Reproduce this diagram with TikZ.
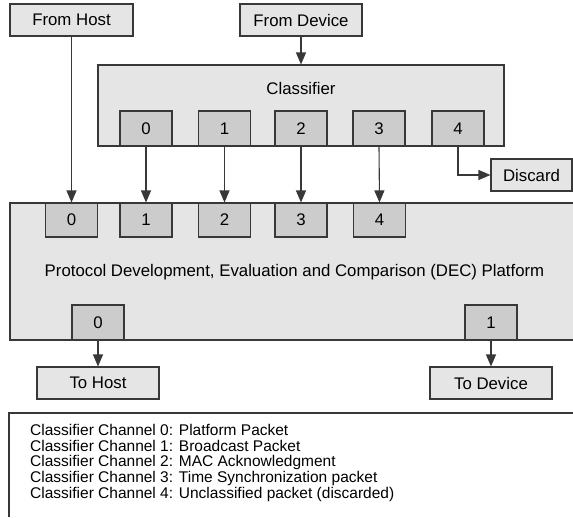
\documentclass[tikz,border=0pt]{standalone}
\usepackage{fontspec}
\setmainfont{Liberation Sans}
\usetikzlibrary{arrows.meta}
\definecolor{boxfill}{gray}{0.90}
\definecolor{portfill}{gray}{0.80}
\definecolor{edge}{gray}{0.22}
\tikzset{
  boxfont/.style={font=\fontsize{16.8}{18}\selectfont},
  bigbox/.style={draw=edge, fill=boxfill, line width=1.1pt, inner sep=0pt,
    minimum width=#1, minimum height=32pt, boxfont},
  port/.style={draw=edge, fill=portfill, line width=1.1pt, inner sep=0pt,
    minimum width=52pt, minimum height=35pt, boxfont},
  txt/.style={inner sep=0pt, boxfont},
  legend/.style={inner sep=0pt, anchor=west, font=\fontsize{15.5}{17}\selectfont},
  flow/.style={draw=edge, line width=1.1pt, -{Triangle[length=12pt,width=10pt]}}
}
\begin{document}
\begin{tikzpicture}[x=1pt,y=-1pt]
\useasboundingbox (0,0) rectangle (573,517);

% sources
\node[bigbox=123pt] (fromhost) at (71.5,20) {From Host};
\node[bigbox=122pt] (fromdev) at (301,20) {From Device};

% classifier with its five output channels
\node[draw=edge, fill=boxfill, line width=1.1pt, minimum width=406pt,
      minimum height=81pt, inner sep=0pt] (cls) at (301,105.5) {};
\node[txt] (clsname) at (301,88) {Classifier};
\foreach \i/\x in {0/146,1/224.5,2/301,3/379,4/458}
  \node[port] (c\i) at (\x,128.5) {\i};

\node[bigbox=81pt] (discard) at (531.5,175) {Discard};

% platform body (runs off the right edge)
\fill[boxfill] (10,203) rectangle (573,340);
\draw[edge, line width=1.1pt] (573,203) -- (10,203) -- (10,340) -- (573,340);
\node[txt] (platname) at (294.5,272)
  {Protocol Development, Evaluation and Comparison (DEC) Platform};
\foreach \i/\x in {0/71.5,1/146,2/224.5,3/301,4/379.5}
  \node[port, minimum height=34pt] (p\i) at (\x,220) {\i};
\node[port] (o0) at (98,322.5) {0};
\node[port] (o1) at (491,322.5) {1};

% sinks
\node[bigbox=122pt] (tohost) at (98,383) {To Host};
\node[bigbox=122pt] (todev) at (491,383) {To Device};

% connectors
\draw[flow] (fromhost.south) -- (p0.north);
\draw[flow] (fromdev.south) -- (cls.north);
\draw[flow] (c0.south) -- (p1.north);
\draw[flow] (c1.south) -- (p2.north);
\draw[flow] (c2.south) -- (p3.north);
\draw[flow] (c3.south) -- (p4.north);
\draw[flow] (c4.south) |- (discard.west);
\draw[flow] (o0.south) -- (tohost.north);
\draw[flow] (o1.south) -- (todev.north);

% channel legend (open on the right and bottom)
\draw[edge, line width=1.1pt] (573,413) -- (9,413) -- (9,517);
\node[legend] (l0) at (30,429.5) {Classifier Channel 0: Platform Packet};
\node[legend] (l1) at (30,445.8) {Classifier Channel 1: Broadcast Packet};
\node[legend] (l2) at (30,462.1) {Classifier Channel 2: MAC Acknowledgment};
\node[legend] (l3) at (30,478.4) {Classifier Channel 3: Time Synchronization packet};
\node[legend] (l4) at (30,494.7) {Classifier Channel 4: Unclassified packet (discarded)};
\end{tikzpicture}
\end{document}
